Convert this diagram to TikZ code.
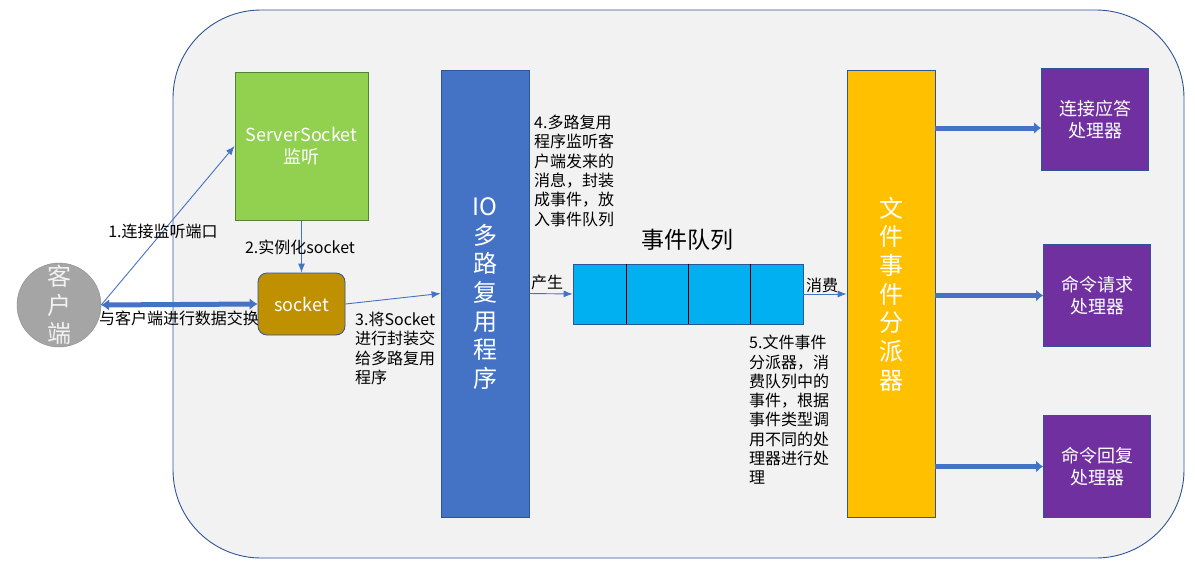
\documentclass[tikz,border=0pt]{standalone}
\usepackage{fontspec}
\setmainfont{Noto Sans CJK SC}
\usetikzlibrary{arrows.meta}
\tikzset{>={Latex[width=7pt,length=9pt]}}
\definecolor{panel}{HTML}{F2F2F2}
\definecolor{frameblue}{HTML}{2F5597}
\definecolor{linkblue}{HTML}{4472C4}
\definecolor{lgreen}{HTML}{92D050}
\definecolor{dgreen}{HTML}{548235}
\definecolor{gold}{HTML}{BF9000}
\definecolor{ioblue}{HTML}{4472C4}
\definecolor{qcyan}{HTML}{00B0F0}
\definecolor{amber}{HTML}{FFC000}
\definecolor{hpurple}{HTML}{7030A0}
\definecolor{cgray}{HTML}{A5A5A5}

\begin{document}
\begin{tikzpicture}[x=1pt, y=-1pt,
  box/.style={draw=frameblue, line width=0.8pt, inner sep=0pt, align=center},
  big/.style={font=\fontsize{24}{28.7}\selectfont, text=white, align=center},
  mid/.style={font=\fontsize{18}{21.6}\selectfont, text=white},
  note/.style={font=\fontsize{16}{19.3}\selectfont, inner sep=0pt, align=left},
  link/.style={->, draw=linkblue, line width=0.9pt},
  fat/.style={-{Latex[width=12pt,length=7pt]}, draw=linkblue, line width=5pt}]

  \useasboundingbox (0,0) rectangle (1195,568);
  \draw[fill=panel, draw=frameblue, line width=0.9pt, rounded corners=88pt] (173,10) rectangle (1184,558);

  % client and server side
  \node[circle, fill=cgray, draw=cgray!85!black, minimum size=84pt, inner sep=0pt] (cli) at (59,305) {};
  \node[big, text=panel] (clitxt) at (cli) {客\\户\\端};
  \node[box, mid, fill=lgreen, draw=dgreen, minimum width=133pt, minimum height=148pt] (ss) at (301.5,146) {ServerSocket\\监听};
  \node[box, mid, fill=gold, rounded corners=9pt, minimum width=87pt, minimum height=62pt] (sock) at (301.5,304) {socket};

  \node[box, big, fill=ioblue, minimum width=88pt, minimum height=447pt] (io) at (485,293.5) {IO\\多\\路\\复\\用\\程\\序};

  % event queue
  \node[box, fill=qcyan, minimum width=230pt, minimum height=60pt] (q) at (688,294) {};
  \foreach \x in {54,116,178}
    \draw[line width=1.6pt] ([xshift=\x pt]q.north west) -- ([xshift=\x pt]q.south west);
  \node[font=\fontsize{23}{27}\selectfont] (qt) at (687,240) {事件队列};

  \node[box, big, fill=amber, minimum width=88pt, minimum height=447pt] (disp) at (891,294) {文\\件\\事\\件\\分\\派\\器};

  % handlers
  \node[box, mid, fill=hpurple, minimum width=107pt, minimum height=102pt] (h1) at (1095,119.5) {连接应答\\处理器};
  \node[box, mid, fill=hpurple, minimum width=107pt, minimum height=102pt] (h2) at (1097,295.5) {命令请求\\处理器};
  \node[box, mid, fill=hpurple, minimum width=107pt, minimum height=102pt] (h3) at (1097,466.5) {命令回复\\处理器};

  \draw[link] (cli.east) -- (ss.west); % client->ServerSocket
  \draw[fat, {Latex[width=12pt,length=8pt]}-{Latex[width=12pt,length=8pt]}] (cli.east) -- (sock.west); % client<->socket
  \draw[link] (ss.south) -- (sock.north); % ServerSocket->socket
  \draw[link] (sock.east) -- (io.west); % socket->IO
  \draw[link] (io.east) -- (q.west); % IO->queue
  \draw[link] (q.east) -- (disp.west); % queue->dispatcher

  \coordinate (a1) at ([yshift=-8.5pt]h1.west);
  \draw[fat] (disp.east |- a1) -- (a1);
  \draw[fat] (disp.east |- h2.west) -- (h2.west);
  \draw[fat] (disp.east |- h3.west) -- (h3.west);

  % labels
  \node[note] (n1) at (163,231) {1.连接监听端口};
  \node[note] (n2) at (300,247) {2.实例化socket};
  \node[note] (nx) at (179,318) {与客户端进行数据交换};
  \node[note, anchor=north west] (n3) at (355,312) {3.将Socket\\进行封装交\\给多路复用\\程序};
  \node[note, anchor=north west] (n4) at (534,115) {4.多路复用\\程序监听客\\户端发来的\\消息，封装\\成事件，放\\入事件队列};
  \node[note] (np) at (547,282) {产生};
  \node[note] (nc) at (822,285) {消费};
  \node[note, anchor=north west] (n5) at (749,335) {5.文件事件\\分派器，消\\费队列中的\\事件，根据\\事件类型调\\用不同的处\\理器进行处\\理};

\end{tikzpicture}
\end{document}
